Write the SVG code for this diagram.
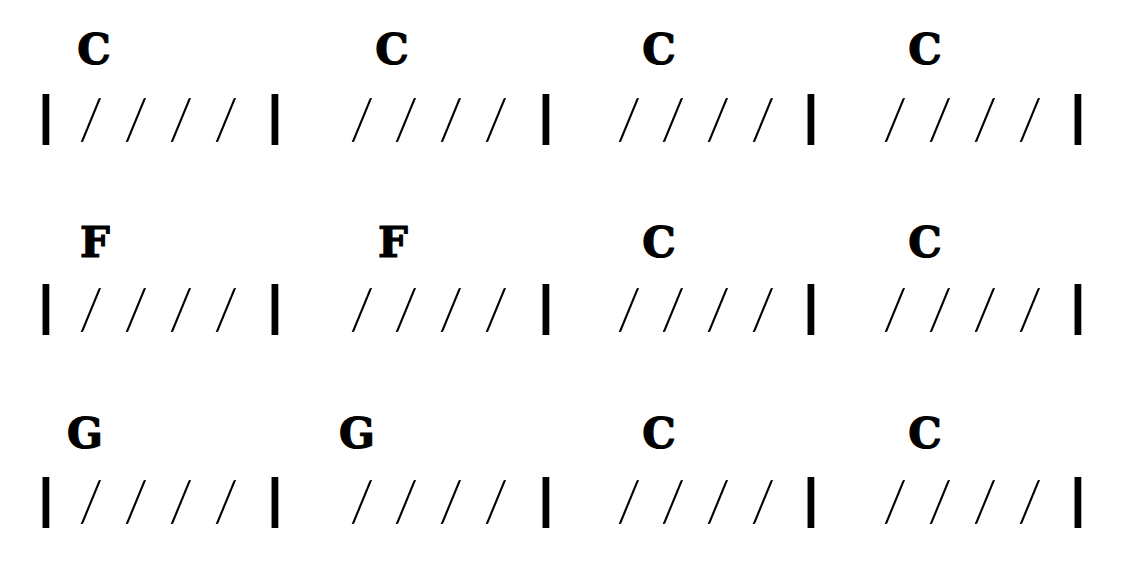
<svg xmlns="http://www.w3.org/2000/svg" width="1122" height="588" viewBox="0 0 1122 588">
<style>
.chord{font-family:"DejaVu Serif","Liberation Serif",serif;font-weight:bold;font-size:42px;fill:#000;stroke:#000;stroke-width:1.2px;text-anchor:middle}
.slash{font-family:"Lato","Liberation Mono",sans-serif;font-weight:300;font-size:57px;fill:#000;text-anchor:middle}
.bar{font-family:"Liberation Sans","DejaVu Sans",sans-serif;font-weight:bold;font-size:53px;fill:#000;text-anchor:middle}
</style>
<rect width="1122" height="588" fill="#fff"/>
<g id="row1">
<g id="r1-chords"><text class="chord" x="94" y="64">C</text><text class="chord" x="392" y="64">C</text><text class="chord" x="659" y="64">C</text><text class="chord" x="925" y="64">C</text></g>
<g id="r1-bars"><text class="bar" x="46" y="133">|</text><text class="bar" x="275" y="133">|</text><text class="bar" x="546" y="133">|</text><text class="bar" x="811" y="133">|</text><text class="bar" x="1078" y="133">|</text></g>
<g id="r1-slashes"><text class="slash" x="91 136 181 226" y="139">////</text><text class="slash" x="362 406 451 496" y="139">////</text><text class="slash" x="629 673 718 763" y="139">////</text><text class="slash" x="895 940 985 1030" y="139">////</text></g>
</g>
<g id="row2">
<g id="r2-chords"><text class="chord" x="95" y="257">F</text><text class="chord" x="393" y="257">F</text><text class="chord" x="659" y="257">C</text><text class="chord" x="925" y="257">C</text></g>
<g id="r2-bars"><text class="bar" x="46" y="323">|</text><text class="bar" x="275" y="323">|</text><text class="bar" x="546" y="323">|</text><text class="bar" x="811" y="323">|</text><text class="bar" x="1078" y="323">|</text></g>
<g id="r2-slashes"><text class="slash" x="91 136 181 226" y="329">////</text><text class="slash" x="362 406 451 496" y="329">////</text><text class="slash" x="629 673 718 763" y="329">////</text><text class="slash" x="895 940 985 1030" y="329">////</text></g>
</g>
<g id="row3">
<g id="r3-chords"><text class="chord" x="85" y="448">G</text><text class="chord" x="357" y="448">G</text><text class="chord" x="659" y="448">C</text><text class="chord" x="925" y="448">C</text></g>
<g id="r3-bars"><text class="bar" x="46" y="516">|</text><text class="bar" x="275" y="516">|</text><text class="bar" x="546" y="516">|</text><text class="bar" x="811" y="516">|</text><text class="bar" x="1078" y="516">|</text></g>
<g id="r3-slashes"><text class="slash" x="91 136 181 226" y="521">////</text><text class="slash" x="362 406 451 496" y="521">////</text><text class="slash" x="629 673 718 763" y="521">////</text><text class="slash" x="895 940 985 1030" y="521">////</text></g>
</g>
</svg>
